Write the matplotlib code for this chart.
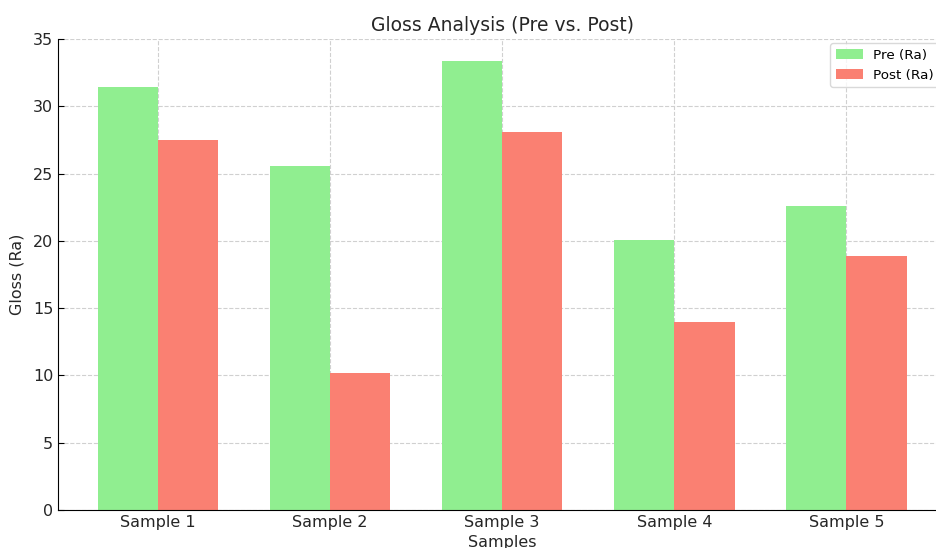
import numpy as np
import matplotlib
matplotlib.use("Agg")
import matplotlib.pyplot as plt

samples = ["Sample 1", "Sample 2", "Sample 3", "Sample 4", "Sample 5"]
pre = [31.4, 25.6, 33.4, 20.1, 22.6]
post = [27.5, 10.2, 28.1, 14.0, 18.9]

fig = plt.figure(figsize=(9.36, 5.48), dpi=100)
ax = fig.add_axes([0.062, 0.0693, 0.949, 0.8595])

x = np.arange(len(samples))
w = 0.35
ax.bar(x - w / 2, pre, w, color="#90EE90", label="Pre (Ra)", zorder=2)
ax.bar(x + w / 2, post, w, color="#FA8072", label="Post (Ra)", zorder=2)

ax.set_xticks(x)
ax.set_xticklabels(samples, fontsize=11.5, color="#262626")
ax.set_xlim(-0.58, 4.58)
ax.set_ylim(0, 35)
ax.set_yticks(range(0, 36, 5))
ax.tick_params(axis="y", labelsize=11.5, labelcolor="#262626")
ax.tick_params(direction="in", length=4)

ax.set_title("Gloss Analysis (Pre vs. Post)", fontsize=13.5, color="#262626", pad=6)
ax.set_xlabel("Samples", fontsize=11.5, color="#262626", labelpad=4)
ax.set_ylabel("Gloss (Ra)", fontsize=11.5, color="#262626", labelpad=6)

ax.grid(True, linestyle="--", color="#d0d0d0", linewidth=0.8, zorder=0)
ax.spines["top"].set_visible(False)
ax.spines["right"].set_visible(False)

ax.legend(loc="upper right", fontsize=9.7, frameon=True, edgecolor="#d0d0d0",
          bbox_to_anchor=(1.0, 1.005))

fig.savefig("out.png", dpi=100)
